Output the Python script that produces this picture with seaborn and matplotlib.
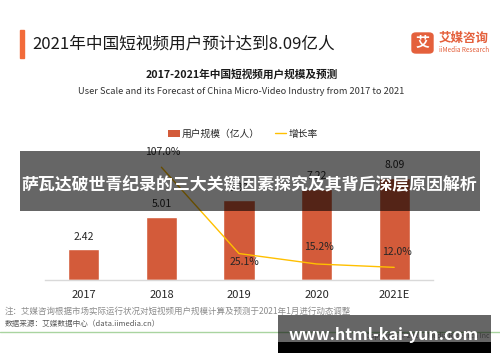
import numpy as np
import pandas as pd
import seaborn as sns
import matplotlib.pyplot as plt
from matplotlib.patches import Rectangle, FancyBboxPatch, Patch
from matplotlib.lines import Line2D

years = ['2017', '2018', '2019', '2020', '2021E']
users = [2.42, 5.01, 6.32, 7.22, 8.09]
growth_years = ['2018', '2019', '2020', '2021E']
growth = [107.0, 25.1, 15.2, 12.0]
growth_offsets = [(1, 11), (4, -6), (2, 12), (2, 11)]

bar_color = '#D35B3A'
line_color = '#FFC000'
logo_color = '#E4603C'

sns.set_theme(style='white')
plt.rcParams['font.family'] = ['Noto Sans CJK SC', 'DejaVu Sans']

W, H = 500, 362
fig = plt.figure(figsize=(5, 3.62), dpi=100)
fig.patch.set_facecolor('white')

def fx(px):
    return px / W

def fy(py):
    return 1 - py / H

# chart area: baseline at y=280px, 12.65 px per unit of users
ax = fig.add_axes([fx(45), fy(280), fx(388), 130 / H])
df = pd.DataFrame({'year': years, 'users': users})
sns.barplot(data=df, x='year', y='users', color=bar_color, saturation=1,
            width=0.4, ax=ax)
ax.set_xlim(-0.5, 4.5)
ax.set_ylim(0, 130 / 12.65)
ax.set_xlabel('')
ax.set_ylabel('')
ax.set_yticks([])
for s in ['top', 'left', 'right']:
    ax.spines[s].set_visible(False)
ax.spines['bottom'].set_color('#D9D9D9')
ax.spines['bottom'].set_linewidth(1)
ax.tick_params(axis='x', length=0, pad=7, labelsize=8, labelcolor='#262626')

for i, v in enumerate(users):
    ax.annotate(f'{v:.2f}', (i, v), xytext=(0, 9), textcoords='offset points',
                ha='center', va='center', fontsize=7.5, color='#262626')

ax2 = ax.twinx()
gpos = [years.index(y) for y in growth_years]
sns.lineplot(x=gpos, y=growth, ax=ax2, color=line_color, linewidth=1)
ax2.set_ylim(0, 130 / 1.054)
ax2.set_xlim(-0.5, 4.5)
ax2.set_yticks([])
for s in ['top', 'left', 'right', 'bottom']:
    ax2.spines[s].set_visible(False)
for p, g, off in zip(gpos, growth, growth_offsets):
    ax2.annotate(f'{g:.1f}%', (p, g), xytext=off, textcoords='offset points',
                 ha='center', va='center', fontsize=7.5, color='#262626')

handles = [Patch(facecolor=bar_color, edgecolor='none'),
           Line2D([0], [0], color=line_color, lw=1)]
fig.legend(handles, ['用户规模（亿人）', '增长率'], loc='center',
           bbox_to_anchor=(fx(243), fy(134)), ncol=2, frameon=False,
           fontsize=7, handlelength=1.2, handleheight=0.8, handletextpad=0.2,
           columnspacing=1.5, labelcolor='#262626')

# header
fig.add_artist(Rectangle((fx(20), fy(58)), fx(3.5), 28 / H, color='#F26B3A',
                         transform=fig.transFigure))
fig.text(fx(32), fy(44), '2021年中国短视频用户预计达到8.09亿人', fontsize=12,
         va='center', ha='left', color='#1a1a1a')
fig.add_artist(FancyBboxPatch((fx(412), fy(53)), fx(21), 20 / H,
                              boxstyle='round,pad=0,rounding_size=0.008',
                              color=logo_color, transform=fig.transFigure))
fig.text(fx(422.5), fy(43), '艾', fontsize=10, fontweight='bold', color='white',
         ha='center', va='center')
fig.text(fx(439), fy(38.5), '艾媒咨询', fontsize=9, fontweight='bold',
         color=logo_color, ha='left', va='center')
fig.text(fx(439), fy(50), 'iiMedia Research', fontsize=4.6, color=logo_color,
         ha='left', va='center')
fig.text(fx(241.5), fy(74), '2017-2021年中国短视频用户规模及预测', fontsize=7.7,
         fontweight='bold', ha='center', va='center', color='#1a1a1a')
fig.text(fx(241.5), fy(92),
         'User Scale and its Forecast of China Micro-Video Industry from 2017 to 2021',
         fontsize=6.7, ha='center', va='center', color='#333333')

# footer
fig.text(fx(5), fy(311.5), '注：艾媒咨询根据市场实际运行状况对短视频用户规模计算及预测于2021年1月进行动态调整',
         fontsize=6.1, color='#8c8c8c', ha='left', va='center')
fig.text(fx(5), fy(324), '数据来源：艾媒数据中心（data.iimedia.cn）',
         fontsize=5.5, color='#595959', ha='left', va='center')
fig.add_artist(Line2D([0, 1], [fy(332), fy(332)], color='#A9D4A0', lw=1,
                      transform=fig.transFigure))
fig.text(fx(489), fy(336), 'Copyright © 2021 iiMedia Research Inc', fontsize=5,
         color='#8c8c8c', ha='right', va='center')

# overlays
fig.add_artist(Rectangle((fx(20), fy(211)), fx(460), 60 / H, facecolor='black',
                         alpha=0.6, edgecolor='none', transform=fig.transFigure,
                         zorder=5))
fig.text(fx(249), fy(185), '萨瓦达破世青纪录的三大关键因素探究及其背后深层原因解析',
         fontsize=12.2, fontweight='bold', color='white', ha='center',
         va='center', zorder=6)
fig.add_artist(Rectangle((fx(278), fy(342)), fx(213), 27 / H, facecolor='black',
                         alpha=0.6, edgecolor='none', transform=fig.transFigure,
                         zorder=5))
fig.add_artist(Rectangle((fx(278), fy(353)), fx(213), 11 / H, facecolor='black',
                         edgecolor='none', transform=fig.transFigure, zorder=5))
fig.text(fx(384), fy(335), 'www.html-kai-yun.com', fontsize=11.6,
         fontweight='bold', color='white', ha='center', va='center', zorder=6)

fig.savefig('out.png', dpi=100)
